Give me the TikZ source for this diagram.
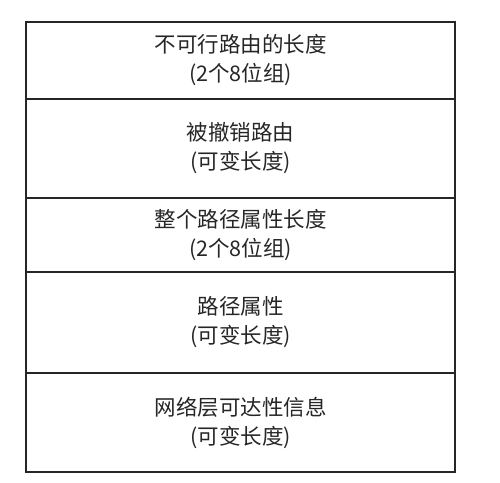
\documentclass[tikz,border=0pt]{standalone}
\usepackage{fontspec}
\setmainfont{Noto Sans CJK SC}
\begin{document}
\begin{tikzpicture}[x=1pt,y=1pt,
  rowbox/.style={draw=black!85, line width=2pt, minimum width=429pt, inner sep=0pt,
    align=center, font=\fontsize{21.5}{29}\selectfont, text=black!85}]
\useasboundingbox (0,0) rectangle (500,482);
\node[rowbox, minimum height=77pt] (r1) at (240.5,421.5) {不可行路由的长度\\(2个8位组)};
\node[rowbox, minimum height=99pt] (r2) at (240.5,333.5) {被撤销路由\\(可变长度)};
\node[rowbox, minimum height=74pt] (r3) at (240.5,247) {整个路径属性长度\\(2个8位组)};
\node[rowbox, minimum height=101pt] (r4) at (240.5,159.5) {路径属性\\(可变长度)};
\node[rowbox, minimum height=99pt] (r5) at (240.5,59.5) {网络层可达性信息\\(可变长度)};
\end{tikzpicture}
\end{document}
